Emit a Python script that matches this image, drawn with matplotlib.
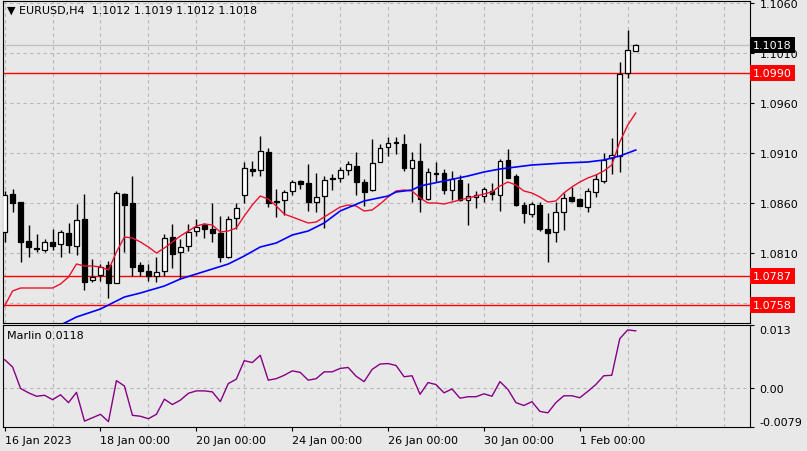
# EURUSD H4 with MAs, levels and Marlin oscillator (MT4 look)

import numpy as np
import matplotlib.pyplot as plt
import matplotlib.transforms as mtransforms

opens = [1.0831, 1.0869, 1.0861, 1.0822, 1.0815, 1.0813, 1.0821, 1.0819, 1.0830, 1.0817,
         1.0844, 1.0783, 1.0788, 1.0798, 1.0780, 1.0869, 1.0860, 1.0798, 1.0792, 1.0787,
         1.0792, 1.0826, 1.0811, 1.0817, 1.0832, 1.0838, 1.0834, 1.0830, 1.0806, 1.0845,
         1.0868, 1.0894, 1.0893, 1.0911, 1.0862, 1.0863, 1.0872, 1.0882, 1.0880, 1.0861,
         1.0867, 1.0885, 1.0885, 1.0893, 1.0897, 1.0881, 1.0873, 1.0901, 1.0916, 1.0921,
         1.0919, 1.0895, 1.0902, 1.0864, 1.0890, 1.0890, 1.0873, 1.0883, 1.0863, 1.0866,
         1.0867, 1.0872, 1.0868, 1.0903, 1.0887, 1.0858, 1.0849, 1.0858, 1.0834, 1.0831,
         1.0851, 1.0866, 1.0864, 1.0856, 1.0871, 1.0882, 1.0905, 1.0907, 1.0990, 1.1012]
highs = [1.0872, 1.0874, 1.0861, 1.0838, 1.0829, 1.0824, 1.0834, 1.0833, 1.0840, 1.0859,
         1.0869, 1.0804, 1.0799, 1.0802, 1.0872, 1.0870, 1.0887, 1.0801, 1.0799, 1.0806,
         1.0829, 1.0839, 1.0824, 1.0839, 1.0844, 1.0840, 1.0860, 1.0847, 1.0847, 1.0860,
         1.0901, 1.0902, 1.0927, 1.0915, 1.0874, 1.0873, 1.0883, 1.0883, 1.0899, 1.0890,
         1.0887, 1.0889, 1.0896, 1.0902, 1.0911, 1.0884, 1.0924, 1.0919, 1.0926, 1.0926,
         1.0929, 1.0911, 1.0920, 1.0895, 1.0901, 1.0894, 1.0892, 1.0888, 1.0880, 1.0872,
         1.0876, 1.0880, 1.0904, 1.0914, 1.0889, 1.0861, 1.0861, 1.0861, 1.0850, 1.0861,
         1.0870, 1.0876, 1.0865, 1.0875, 1.0889, 1.0910, 1.0925, 1.1001, 1.1033, 1.1019]
lows = [1.0821, 1.0851, 1.0801, 1.0806, 1.0811, 1.0811, 1.0813, 1.0806, 1.0810, 1.0808,
        1.0773, 1.0781, 1.0782, 1.0765, 1.0780, 1.0811, 1.0787, 1.0787, 1.0782, 1.0781,
        1.0787, 1.0795, 1.0784, 1.0812, 1.0827, 1.0825, 1.0821, 1.0801, 1.0805, 1.0834,
        1.0860, 1.0887, 1.0887, 1.0856, 1.0846, 1.0848, 1.0868, 1.0874, 1.0852, 1.0851,
        1.0835, 1.0873, 1.0881, 1.0888, 1.0868, 1.0857, 1.0872, 1.0901, 1.0907, 1.0909,
        1.0892, 1.0861, 1.0851, 1.0863, 1.0881, 1.0869, 1.0863, 1.0862, 1.0838, 1.0855,
        1.0861, 1.0863, 1.0852, 1.0885, 1.0857, 1.0840, 1.0846, 1.0832, 1.0801, 1.0821,
        1.0833, 1.0861, 1.0857, 1.0851, 1.0866, 1.0880, 1.0889, 1.0891, 1.0985, 1.1012]
closes = [1.0868, 1.0860, 1.0821, 1.0816, 1.0814, 1.0821, 1.0817, 1.0831, 1.0818, 1.0843,
          1.0781, 1.0786, 1.0796, 1.0780, 1.0870, 1.0858, 1.0796, 1.0792, 1.0787, 1.0791,
          1.0825, 1.0809, 1.0816, 1.0831, 1.0836, 1.0834, 1.0830, 1.0806, 1.0844, 1.0855,
          1.0895, 1.0892, 1.0912, 1.0860, 1.0861, 1.0871, 1.0881, 1.0879, 1.0861, 1.0866,
          1.0883, 1.0884, 1.0893, 1.0899, 1.0881, 1.0871, 1.0900, 1.0915, 1.0920, 1.0920,
          1.0895, 1.0903, 1.0864, 1.0891, 1.0889, 1.0873, 1.0884, 1.0863, 1.0867, 1.0868,
          1.0874, 1.0869, 1.0902, 1.0885, 1.0858, 1.0850, 1.0859, 1.0834, 1.0830, 1.0851,
          1.0865, 1.0862, 1.0857, 1.0872, 1.0884, 1.0903, 1.0908, 1.0989, 1.1013, 1.1018]

red_ma = [1.0757, 1.0772, 1.0775, 1.0775, 1.0775, 1.0775, 1.0775, 1.0779, 1.0786, 1.0799,
          1.0797, 1.0797, 1.0796, 1.0793, 1.0811, 1.0826, 1.0825, 1.0821, 1.0816, 1.0810,
          1.0815, 1.0821, 1.0827, 1.0832, 1.0837, 1.0839, 1.0838, 1.0831, 1.0832, 1.0835,
          1.0847, 1.0858, 1.0867, 1.0864, 1.0857, 1.0849, 1.0846, 1.0843, 1.0840, 1.0841,
          1.0846, 1.0851, 1.0856, 1.0858, 1.0857, 1.0852, 1.0853, 1.0859, 1.0866, 1.0872,
          1.0873, 1.0872, 1.0865, 1.0860, 1.0860, 1.0859, 1.0861, 1.0863, 1.0865, 1.0867,
          1.0869, 1.0871, 1.0877, 1.0881, 1.0878, 1.0872, 1.0870, 1.0866, 1.0861, 1.0862,
          1.0870, 1.0876, 1.0881, 1.0885, 1.0888, 1.0892, 1.0898, 1.0921, 1.0938, 1.0950]

blue_bars = [7, 9, 12, 14, 15, 17, 20, 22, 24, 28, 30, 32, 34, 36, 38, 40, 42, 45,
             48, 49, 51, 52, 55, 58, 60, 62, 66, 70, 73, 75, 77, 79]
blue_ma = [1.0738, 1.0746, 1.0754, 1.0762, 1.0766, 1.0770, 1.0777, 1.0784, 1.0789,
           1.0799, 1.0807, 1.0816, 1.0820, 1.0828, 1.0832, 1.0840, 1.0852, 1.0862,
           1.0867, 1.0871, 1.0873, 1.0877, 1.0882, 1.0887, 1.0891, 1.0894, 1.0898,
           1.0900, 1.0901, 1.0903, 1.0907, 1.0913]

marlin = [0.0059, 0.0044, 0.0000, -0.0009, -0.0016, -0.0014, -0.0023, -0.0013, -0.0029, -0.0008,
          -0.0067, -0.0060, -0.0053, -0.0068, 0.0016, 0.0005, -0.0055, -0.0057, -0.0062, -0.0053,
          -0.0022, -0.0033, -0.0024, -0.0010, -0.0005, -0.0005, -0.0007, -0.0027, 0.0010, 0.0019,
          0.0057, 0.0053, 0.0068, 0.0017, 0.0020, 0.0027, 0.0036, 0.0033, 0.0017, 0.0020,
          0.0034, 0.0034, 0.0041, 0.0043, 0.0025, 0.0014, 0.0039, 0.0050, 0.0051, 0.0047,
          0.0024, 0.0026, -0.0012, 0.0012, 0.0008, -0.0009, -0.0001, -0.0020, -0.0017, -0.0017,
          -0.0011, -0.0016, 0.0014, -0.0002, -0.0029, -0.0035, -0.0027, -0.0047, -0.0050, -0.0029,
          -0.0015, -0.0015, -0.0019, -0.0006, 0.0008, 0.0026, 0.0027, 0.0102, 0.0120, 0.0118]

levels = [1.0990, 1.0787, 1.0758]
price_ticks = [1.1060, 1.1010, 1.0960, 1.0910, 1.0860, 1.0810]
hidden_grid = [1.0760]   # grid line whose label sits under the 1.0758 box
date_bars = [0, 12, 24, 36, 48, 60, 72]
date_labels = ['16 Jan 2023', '18 Jan 00:00', '20 Jan 00:00', '24 Jan 00:00',
               '26 Jan 00:00', '30 Jan 00:00', '1 Feb 00:00']

bg = '#e8e8e8'
grid_c = '#b8b8b8'
plt.rcParams['font.family'] = 'DejaVu Sans'
plt.rcParams['font.size'] = 8

W, H = 807, 452
fig = plt.figure(figsize=(W / 100, H / 100), dpi=100, facecolor=bg)
ax = fig.add_axes([3 / W, (H - 324) / H, 747 / W, 322 / H], facecolor=bg)
ax2 = fig.add_axes([3 / W, (H - 428) / H, 747 / W, 102 / H], facecolor=bg)

n = len(closes)
x = np.arange(n)
o = np.array(opens)
c = np.array(closes)

# candles
ax.vlines(x, lows, highs, color='black', lw=1, zorder=3)
up = c >= o
body = np.maximum(np.abs(c - o), 0.00004)
ax.bar(x, body, bottom=np.minimum(o, c), width=0.6,
       color=np.where(up, 'white', 'black'), edgecolor='black', lw=0.9, zorder=4)

ax.plot(x, red_ma, color='#e8102f', lw=1, zorder=5)
ax.plot(blue_bars, blue_ma, color='#0000ff', lw=1.2, zorder=5)

for lv in levels:
    ax.axhline(lv, color='#ff0000', lw=1, zorder=2)
ax.axhline(closes[-1], color='#c0c0c0', lw=1, zorder=1.8)
for g in hidden_grid:
    ax.axhline(g, color=grid_c, ls=(0, (3, 3)), lw=0.8, zorder=1)

ax.set_xlim(-0.2, 93.3)
ax.set_ylim(1.0740, 1.1062)
ax.set_xticks(np.arange(0, 94, 6))
ax.tick_params(axis='x', length=0, labelbottom=False)
ax.yaxis.tick_right()
ax.set_yticks(price_ticks)
ax.set_yticklabels([f'{v:.4f}' for v in price_ticks])
ax.tick_params(axis='y', length=3, pad=4, colors='black')
ax.grid(color=grid_c, ls=(0, (3, 3)), lw=0.8)
for s in ax.spines.values():
    s.set_color('black')

trans = mtransforms.blended_transform_factory(ax.transAxes, ax.transData)
box_kw = dict(transform=trans, color='white', va='center', ha='left',
              clip_on=False, zorder=10)
ax.text(1.004, closes[-1], f'{closes[-1]:.4f}',
        bbox=dict(facecolor='black', edgecolor='none', pad=2.2), **box_kw)
for lv in levels:
    ax.text(1.004, lv, f'{lv:.4f}',
            bbox=dict(facecolor='#ff0000', edgecolor='none', pad=2.2), **box_kw)

ax.text(0.005, 0.988,
        f'\u25bc EURUSD,H4  {opens[-1]:.4f} {highs[-1]:.4f} {lows[-1]:.4f} {closes[-1]:.4f}',
        transform=ax.transAxes, va='top', ha='left')

# Marlin
ax2.plot(x, marlin, color='#850085', lw=1)
ax2.set_xlim(-0.2, 93.3)
ax2.set_ylim(-0.0079, 0.013)
ax2.axhline(0, color=grid_c, ls=(0, (3, 3)), lw=0.8, zorder=0.5)
ax2.set_xticks(date_bars)
ax2.set_xticklabels(date_labels, ha='left')
ax2.set_xticks(np.arange(0, 94, 6), minor=True)
ax2.tick_params(axis='x', which='major', length=3, pad=3)
ax2.tick_params(axis='x', which='minor', length=0)
ax2.grid(axis='x', which='minor', color=grid_c, ls=(0, (3, 3)), lw=0.8)
ax2.yaxis.tick_right()
ax2.set_yticks([-0.0079, 0.0, 0.013])
ax2.set_yticklabels(['-0.0079', '0.00', '0.013'])
ax2.tick_params(axis='y', length=3, pad=4)
ylabs = ax2.get_yticklabels()
ylabs[0].set_va('bottom')
ylabs[2].set_va('top')
for s in ax2.spines.values():
    s.set_color('black')
ax2.text(0.005, 0.95, f'Marlin {marlin[-1]:.4f}', transform=ax2.transAxes,
         va='top', ha='left')

fig.savefig('out.png', dpi=100, facecolor=bg)
